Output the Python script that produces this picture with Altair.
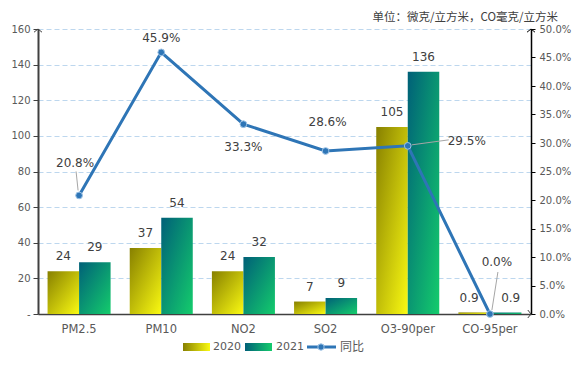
import altair as alt
import pandas as pd

cats = ["PM2.5", "PM10", "NO2", "SO2", "O3-90per", "CO-95per"]
v2020 = [24, 37, 24, 7, 105, 0.9]
v2021 = [29, 54, 32, 9, 136, 0.9]
ratio = [0.208, 0.459, 0.333, 0.286, 0.295, 0.0]
years = ["2020", "2021"]

W, H = 493, 285
FONT = "DejaVu Sans"
CJK = "Noto Sans CJK SC"

def fmt(v):
    return str(int(v)) if float(v).is_integer() else str(v)

rows = []
for c, a, b in zip(cats, v2020, v2021):
    rows.append({"cat": c, "year": "2020", "value": a, "label": fmt(a)})
    rows.append({"cat": c, "year": "2021", "value": b, "label": fmt(b)})
bars_df = pd.DataFrame(rows)
line_df = pd.DataFrame({"cat": cats, "ratio": ratio})

grad2020 = {"gradient": "linear", "x1": 0, "y1": 0, "x2": 1, "y2": 1,
            "stops": [{"offset": 0, "color": "#878000"}, {"offset": 1, "color": "#FAFA12"}]}
grad2021 = {"gradient": "linear", "x1": 0, "y1": 0, "x2": 1, "y2": 1,
            "stops": [{"offset": 0, "color": "#006078"}, {"offset": 1, "color": "#14CC6C"}]}
leg2020 = {"gradient": "linear", "x1": 0, "y1": 0, "x2": 1, "y2": 0,
           "stops": [{"offset": 0, "color": "#878000"}, {"offset": 1, "color": "#FAFA12"}]}
leg2021 = {"gradient": "linear", "x1": 0, "y1": 0, "x2": 1, "y2": 0,
           "stops": [{"offset": 0, "color": "#006078"}, {"offset": 1, "color": "#14CC6C"}]}

xenc = alt.X("cat:N", sort=cats,
             scale=alt.Scale(domain=cats, paddingInner=0.233, paddingOuter=0.1165),
             axis=alt.Axis(title=None, labelAngle=0, ticks=False, domainColor="#404040",
                           domainWidth=1.5, labelColor="#595959", labelFont=FONT,
                           labelFontSize=11.5, labelPadding=9))
xoff = alt.XOffset("year:N", scale=alt.Scale(domain=years, paddingInner=0, paddingOuter=0))

left_axis = alt.Axis(title=None, values=list(range(0, 161, 20)), grid=True,
                     gridDash=[5, 3], gridColor="#BDD7EE", gridWidth=1,
                     tickSize=5, tickColor="#404040", domainColor="#404040", domainWidth=2,
                     labelColor="#595959", labelFont=FONT, labelFontSize=10, labelPadding=3,
                     labelExpr="datum.value == 0 ? '-' : datum.label")
yleft = alt.Y("value:Q", scale=alt.Scale(domain=[0, 160]), axis=left_axis)
yright = alt.Y("ratio:Q", scale=alt.Scale(domain=[0, 0.5]),
               axis=alt.Axis(title=None, orient="right", format=".1%",
                             values=[i * 0.05 for i in range(11)], grid=False,
                             tickSize=4, tickColor="#000000", domainColor="#000000",
                             domainWidth=1.5, labelColor="#595959", labelFont=FONT,
                             labelFontSize=10, labelPadding=4))

bb = alt.Chart(bars_df)
b20 = bb.transform_filter("datum.year == '2020'").mark_bar(color=grad2020).encode(
    x=xenc, xOffset=xoff, y=yleft)
b21 = bb.transform_filter("datum.year == '2021'").mark_bar(color=grad2021).encode(
    x=xenc, xOffset=xoff, y=yleft)
btxt = bb.transform_filter("datum.cat != 'CO-95per'").mark_text(
    font=FONT, fontSize=12, color="#404040", baseline="middle", dy=-15).encode(
    x=xenc, xOffset=xoff, y=yleft, text="label:N")
btxt_co20 = bb.transform_filter("datum.cat == 'CO-95per' && datum.year == '2020'").mark_text(
    font=FONT, fontSize=12, color="#404040", baseline="middle", dy=-14, dx=-5).encode(
    x=xenc, xOffset=xoff, y=yleft, text="label:N")
btxt_co21 = bb.transform_filter("datum.cat == 'CO-95per' && datum.year == '2021'").mark_text(
    font=FONT, fontSize=12, color="#404040", baseline="middle", dy=-14, dx=5).encode(
    x=xenc, xOffset=xoff, y=yleft, text="label:N")

one = pd.DataFrame({"k": [0]})
dec = alt.Chart(one)
title = dec.mark_text(font=CJK, fontSize=11.5, color="#404040", align="right", baseline="middle").encode(
    x=alt.value(W + 27), y=alt.value(-11), text=alt.value("单位：微克/立方米，CO毫克/立方米"))
up_path = "M -1 0.8 L 0 0 L 1 0.8"
right_path = "M -0.8 -1 L 0 0 L -0.8 1"
arr1 = dec.mark_point(shape=up_path, filled=False, color="#404040", size=64, strokeWidth=1, opacity=1).encode(
    x=alt.value(0), y=alt.value(0))
arr2 = dec.mark_point(shape=up_path, filled=False, color="#000000", size=64, strokeWidth=1, opacity=1).encode(
    x=alt.value(W), y=alt.value(0))
arr3 = dec.mark_point(shape=right_path, filled=False, color="#404040", size=64, strokeWidth=1, opacity=1).encode(
    x=alt.value(W), y=alt.value(H))

ly = 318
lg1 = dec.mark_rect(color=leg2020).encode(x=alt.value(145), x2=alt.value(172), y=alt.value(ly - 4), y2=alt.value(ly + 4))
lt1 = dec.mark_text(font=FONT, fontSize=11, color="#595959", align="left", baseline="middle").encode(
    x=alt.value(175), y=alt.value(ly), text=alt.value("2020"))
lg2 = dec.mark_rect(color=leg2021).encode(x=alt.value(207), x2=alt.value(234), y=alt.value(ly - 4), y2=alt.value(ly + 4))
lt2 = dec.mark_text(font=FONT, fontSize=11, color="#595959", align="left", baseline="middle").encode(
    x=alt.value(238), y=alt.value(ly), text=alt.value("2021"))
ll = dec.mark_rule(color="#2E75B6", strokeWidth=3).encode(x=alt.value(269), x2=alt.value(298), y=alt.value(ly))
lp = dec.mark_circle(color="#2E75B6", size=40, opacity=1, stroke="#9DC3E6", strokeWidth=1).encode(
    x=alt.value(283), y=alt.value(ly))
lt3 = dec.mark_text(font=CJK, fontSize=12, color="#595959", align="left", baseline="middle").encode(
    x=alt.value(302), y=alt.value(ly), text=alt.value("同比"))

left = alt.layer(b20, b21, btxt, btxt_co20, btxt_co21, title, arr1, arr2, arr3,
                 lg1, lt1, lg2, lt2, ll, lp, lt3)

lc = alt.Chart(line_df)
line = lc.mark_line(color="#2E75B6", strokeWidth=3).encode(x=xenc, y=yright)
pts = lc.mark_circle(color="#2E75B6", size=45, opacity=1, stroke="#9DC3E6", strokeWidth=1).encode(
    x=xenc, y=yright)

label_off = {"PM2.5": (-4, -32), "PM10": (0, -14), "NO2": (0, 23),
             "SO2": (2, -29), "O3-90per": (59, -5), "CO-95per": (7, -52)}
leader_off = {"PM2.5": (-3, -24, -1, -5), "O3-90per": (4, -1, 41, -6), "CO-95per": (2, -4, 8, -42)}

right_layers = []
for c in cats:
    dx, dy = label_off[c]
    right_layers.append(
        lc.transform_filter(alt.datum.cat == c).mark_text(
            font=FONT, fontSize=12, color="#404040", baseline="middle", dx=dx, dy=dy).encode(
            x=xenc, y=yright, text=alt.Text("ratio:Q", format=".1%")))
for c, (x1, y1, x2, y2) in leader_off.items():
    right_layers.append(
        lc.transform_filter(alt.datum.cat == c).mark_rule(
            color="#A6A6A6", strokeWidth=1, xOffset=x1, yOffset=y1, x2Offset=x2, y2Offset=y2).encode(
            x=xenc, y=yright, x2=alt.X2("cat:N"), y2=alt.Y2("ratio:Q")))

right = alt.layer(line, pts, *right_layers)

chart = alt.layer(left, right).resolve_scale(y="independent").properties(
    width=W, height=H,
    padding={"left": 30, "top": 21, "right": 41, "bottom": 44},
    autosize=alt.AutoSizeParams(type="none"),
    background="white",
).configure_view(stroke=None)

chart.save("out.html", embed_options={"renderer": "svg", "actions": False})
